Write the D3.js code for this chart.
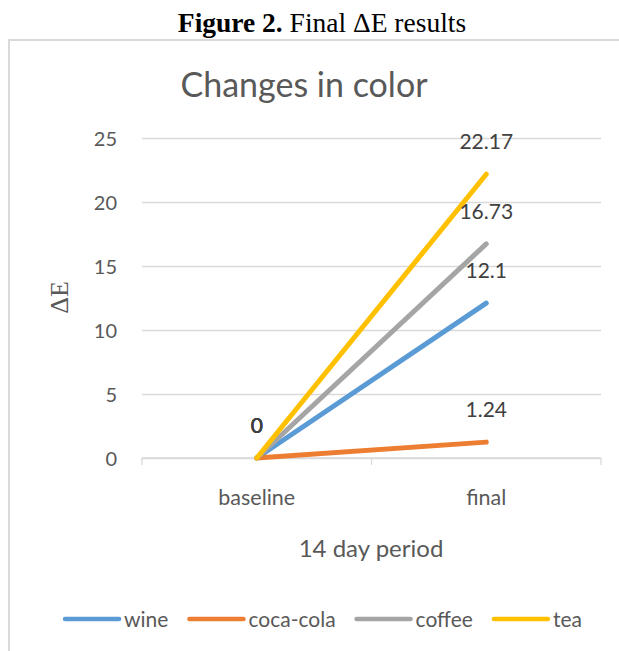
<!DOCTYPE html>
<html>
<head>
<meta charset="utf-8">
<script src="https://cdn.jsdelivr.net/npm/d3@7"></script>
<style>
  html, body { margin: 0; padding: 0; background: #fff; }
  svg { display: block; }
</style>
</head>
<body>
<svg id="chart" width="619" height="651"></svg>
<script>
// ΔE values over the 14 day period
const categories = ["baseline", "final"];
const seriesNames = ["wine", "coca-cola", "coffee", "tea"];
const wine = [0, 12.1];
const cocaCola = [0, 1.24];
const coffee = [0, 16.73];
const tea = [0, 22.17];
const yTicks = [0, 5, 10, 15, 20, 25];

const seriesValues = [wine, cocaCola, coffee, tea];
const colors = ["#5B9BD5", "#ED7D31", "#A5A5A5", "#FFC000"];
const series = seriesNames.map((name, i) => ({ name, values: seriesValues[i], color: colors[i] }));

const uiFont = "Lato, 'Open Sans', sans-serif";
const serifFont = "'Liberation Serif', 'Times New Roman', serif";
const svg = d3.select("#chart");

// Caption above the chart frame
const cap = svg.append("text")
  .attr("x", 322).attr("y", 32)
  .attr("text-anchor", "middle")
  .attr("font-family", serifFont)
  .attr("font-size", 27.5)
  .attr("fill", "#000");
cap.append("tspan").attr("font-weight", "bold").text("Figure 2.");
cap.append("tspan").text(" Final ΔE results");

// Chart frame (runs past the right and bottom edges)
svg.append("rect")
  .attr("x", 9).attr("y", 40)
  .attr("width", 640).attr("height", 640)
  .attr("fill", "none")
  .attr("stroke", "#d9d9d9")
  .attr("stroke-width", 2);

// Chart title
svg.append("text")
  .attr("x", 304).attr("y", 97)
  .attr("text-anchor", "middle")
  .attr("font-family", uiFont)
  .attr("font-size", 34)
  .attr("fill", "#595959")
  .text("Changes in color");

const plot = { left: 142, right: 601, top: 138, bottom: 458 };

const x = d3.scaleBand()
  .domain(categories)
  .range([plot.left, plot.right])
  .paddingInner(0).paddingOuter(0);
const xc = d => x(d) + x.bandwidth() / 2;

const y = d3.scaleLinear()
  .domain([0, 25])
  .range([plot.bottom, plot.top]);

// Horizontal gridlines and value labels
const yAxis = d3.axisLeft(y)
  .tickValues(yTicks)
  .tickSize(-(plot.right - plot.left))
  .tickPadding(25);
const gy = svg.append("g")
  .attr("transform", `translate(${plot.left},0)`)
  .call(yAxis);
gy.select(".domain").remove();
gy.selectAll(".tick line").attr("stroke", "#d9d9d9").attr("stroke-width", 1.3);
gy.selectAll(".tick text")
  .attr("font-family", uiFont)
  .attr("font-size", 20)
  .attr("dy", "0.36em")
  .attr("fill", "#595959");

// Category axis with tick marks at band boundaries
const gx = svg.append("g").attr("class", "x-axis");
gx.append("line")
  .attr("x1", plot.left).attr("x2", plot.right)
  .attr("y1", y(0)).attr("y2", y(0))
  .attr("stroke", "#d9d9d9").attr("stroke-width", 1.3);
const boundaries = [plot.left].concat(categories.map(c => x(c) + x.bandwidth()));
gx.selectAll("line.tick")
  .data(boundaries)
  .join("line")
  .attr("class", "tick")
  .attr("x1", d => d).attr("x2", d => d)
  .attr("y1", y(0)).attr("y2", y(0) + 7)
  .attr("stroke", "#d9d9d9").attr("stroke-width", 1.3);
gx.selectAll("text")
  .data(categories)
  .join("text")
  .attr("x", d => xc(d))
  .attr("y", 505)
  .attr("text-anchor", "middle")
  .attr("font-family", uiFont)
  .attr("font-size", 21.5)
  .attr("fill", "#595959")
  .text(d => d);

// Axis titles
svg.append("text")
  .attr("x", 371).attr("y", 557)
  .attr("text-anchor", "middle")
  .attr("font-family", uiFont)
  .attr("font-size", 24)
  .attr("fill", "#595959")
  .text("14 day period");

svg.append("text")
  .attr("transform", "translate(68,297.5) rotate(-90)")
  .attr("text-anchor", "middle")
  .attr("font-family", serifFont)
  .attr("font-size", 26)
  .attr("fill", "#595959")
  .text("ΔE");

// Series lines
const line = d3.line()
  .x((d, i) => xc(categories[i]))
  .y(d => y(d));

svg.append("g").selectAll("path")
  .data(series)
  .join("path")
  .attr("d", d => line(d.values))
  .attr("fill", "none")
  .attr("stroke", d => d.color)
  .attr("stroke-width", 5)
  .attr("stroke-linecap", "round")
  .attr("stroke-linejoin", "round");

// Data labels above each point
const labels = [];
series.forEach(s => s.values.forEach((v, i) => labels.push({ v, cat: categories[i] })));
svg.append("g").selectAll("text")
  .data(labels)
  .join("text")
  .attr("x", d => xc(d.cat))
  .attr("y", d => y(d.v) - 25)
  .attr("text-anchor", "middle")
  .attr("font-family", uiFont)
  .attr("font-size", 21)
  .attr("fill", "#404040")
  .text(d => d.v);

// Legend: swatch line, label, then the next entry, centred as a row
const swatch = 54, swatchGap = 5, itemGap = 21, legendY = 619, legendCenter = 323.5;
const legend = svg.append("g");
const items = legend.selectAll("g")
  .data(series)
  .join("g");
items.append("line")
  .attr("x1", 0).attr("x2", swatch)
  .attr("y1", 0).attr("y2", 0)
  .attr("stroke", d => d.color)
  .attr("stroke-width", 4.5)
  .attr("stroke-linecap", "round");
items.append("text")
  .attr("x", swatch + swatchGap).attr("y", 7.5)
  .attr("font-family", uiFont)
  .attr("font-size", 21)
  .attr("fill", "#595959")
  .text(d => d.name);
let cursor = 0;
const offsets = [];
items.each(function () {
  offsets.push(cursor);
  const w = d3.select(this).select("text").node().getComputedTextLength();
  cursor += swatch + swatchGap + w + itemGap;
});
const totalWidth = cursor - itemGap;
const startX = legendCenter - totalWidth / 2;
items.attr("transform", (d, i) => `translate(${startX + offsets[i]},${legendY})`);
</script>
</body>
</html>
